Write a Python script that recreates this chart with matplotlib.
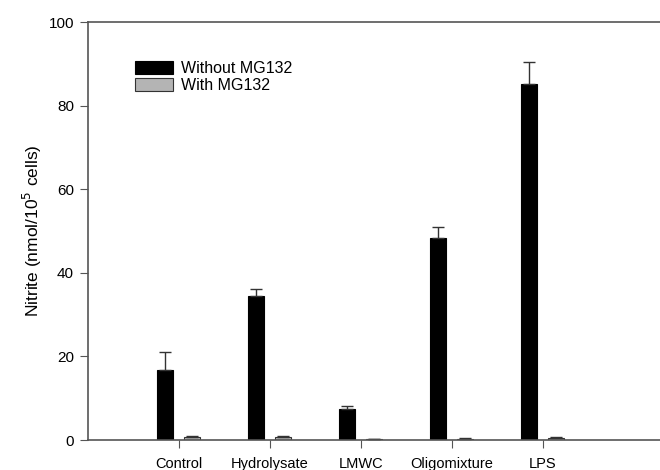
import numpy as np
import matplotlib
matplotlib.use("Agg")
import matplotlib.pyplot as plt

plt.rcParams['font.family'] = ['Liberation Sans', 'DejaVu Sans']

groups = ['Control', 'Hydrolysate', 'LMWC', 'Oligomixture', 'LPS']
without_mg = [16.8, 34.4, 7.3, 48.3, 85.2]
without_err = [4.3, 1.7, 0.8, 2.6, 5.3]
with_mg = [0.8, 0.8, 0.2, 0.3, 0.5]
with_err = [0.2, 0.2, 0.1, 0.2, 0.3]

x = np.arange(1, len(groups) + 1)
w = 0.18

fig = plt.figure(figsize=(6.6, 4.7), dpi=100)
ax = fig.add_axes([88 / 660, 30 / 470, 1.0 - 88 / 660, 418 / 470])

ax.bar(x - 0.155, without_mg, w, color='black', edgecolor='black', linewidth=0.8,
       yerr=[np.zeros(5), without_err], capsize=4,
       error_kw=dict(ecolor='#333333', elinewidth=1, capthick=1),
       label='Without MG132')
ax.bar(x + 0.145, with_mg, w, color='#b4b4b4', edgecolor='#333333', linewidth=0.8,
       yerr=[np.zeros(5), with_err], capsize=4,
       error_kw=dict(ecolor='#333333', elinewidth=1, capthick=1),
       label='With MG132')

ax.set_xlim(0, (660 - 88) / 91)
ax.set_ylim(0, 100)
ax.set_yticks([0, 20, 40, 60, 80, 100])
ax.set_xticks(x)
ax.set_xticklabels(groups, fontsize=10.5)
ax.tick_params(axis='y', labelsize=11, direction='out', length=6, color='#555555', pad=4)
ax.tick_params(axis='x', direction='out', length=6, color='#555555', pad=6)
ax.set_ylabel('Nitrite (nmol/10$^5$ cells)', fontsize=12.5, labelpad=3)

for s in ['left', 'bottom', 'top']:
    ax.spines[s].set_color('#555555')
    ax.spines[s].set_linewidth(1.2)
ax.spines['right'].set_visible(False)

ax.legend(loc='upper left', bbox_to_anchor=(0.065, 0.93), frameon=False,
          fontsize=11.5, handlelength=2.4, handleheight=0.85, labelspacing=0.15,
          handletextpad=0.5, borderaxespad=0.2)

fig.savefig('out.png', dpi=100)
